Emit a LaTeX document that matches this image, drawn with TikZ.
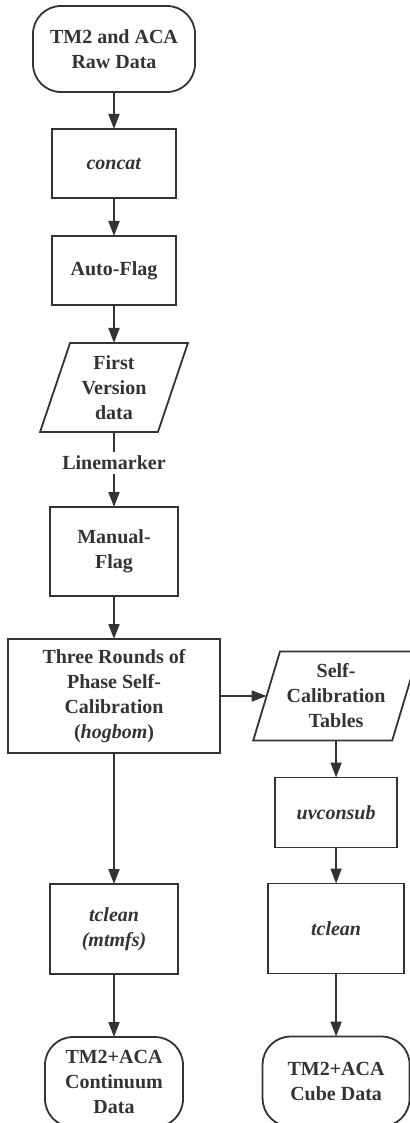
\documentclass[tikz,border=0pt]{standalone}
\usepackage{fontspec}
\setmainfont{Liberation Serif}
\usetikzlibrary{arrows.meta,positioning,shapes.geometric}
\definecolor{ink}{HTML}{333333}

\begin{document}
\begin{tikzpicture}[
  every node/.style={draw=ink, text=ink, line width=0.9pt, outer sep=0pt, align=center,
    font=\fontsize{10}{12.5}\selectfont\bfseries},
  box/.style={rectangle, minimum width=62pt, minimum height=34.5pt},
  term/.style={rectangle, rounded corners=14pt, minimum height=45pt},
  io/.style={trapezium, trapezium left angle=71, trapezium right angle=109,
    trapezium stretches=true, minimum width=74pt, minimum height=44.5pt},
  flow/.style={draw=ink, line width=0.9pt, -{Triangle[length=7.5pt, width=5.5pt]}}
]
  \useasboundingbox (0,0) rectangle (204.5pt,-561.5pt);
  \node[term, minimum width=81pt, minimum height=43pt] (raw) at (57pt,-24.5pt) {TM2 and ACA\\Raw Data};
  \node[box, below=18.5pt of raw] (concat) {\textit{concat}};
  \node[box, below=19pt of concat] (autoflag) {Auto-Flag};
  \node[io, below=19pt of autoflag] (firstver) {First\\Version\\data};
  \node[box, minimum width=64pt, minimum height=44.5pt, below=37.5pt of firstver] (manual) {Manual-\\Flag};
  \node[box, minimum width=106pt, minimum height=57pt, below=21.5pt of manual] (selfcal)
    {Three Rounds of\\Phase Self-\\Calibration\\(\textit{hogbom})};
  \node[box, minimum width=64pt, minimum height=45pt, below=65.5pt of selfcal] (cleancont)
    {\textit{tclean}\\\textit{(mtmfs)}};
  \node[term, minimum width=69pt, below=31.5pt of cleancont] (cont) {TM2+ACA\\Continuum\\Data};
  \node[io, right=23.3pt of selfcal] (caltab) {Self-\\Calibration\\Tables};
  \node[box, minimum width=61pt, minimum height=35pt, below=18.5pt of caltab] (uvsub) {\textit{uvconsub}};
  \node[box, minimum width=68pt, minimum height=45pt, below=18pt of uvsub] (cleancube) {\textit{tclean}};
  \node[term, minimum width=73.5pt, below=31.5pt of cleancube] (cube) {TM2+ACA\\Cube Data};

  \draw[flow] (raw) -- (concat);
  \draw[flow] (concat) -- (autoflag);
  \draw[flow] (autoflag) -- (firstver);
  \draw[flow] (firstver) -- node[draw=none, fill=white, pos=0.41, inner sep=2pt] {Linemarker} (manual);
  \draw[flow] (manual) -- (selfcal);
  \draw[flow] (selfcal) -- (caltab);
  \draw[flow] (selfcal) -- (cleancont);
  \draw[flow] (cleancont) -- (cont);
  \draw[flow] (caltab) -- (uvsub);
  \draw[flow] (uvsub) -- (cleancube);
  \draw[flow] (cleancube) -- (cube);
\end{tikzpicture}
\end{document}
